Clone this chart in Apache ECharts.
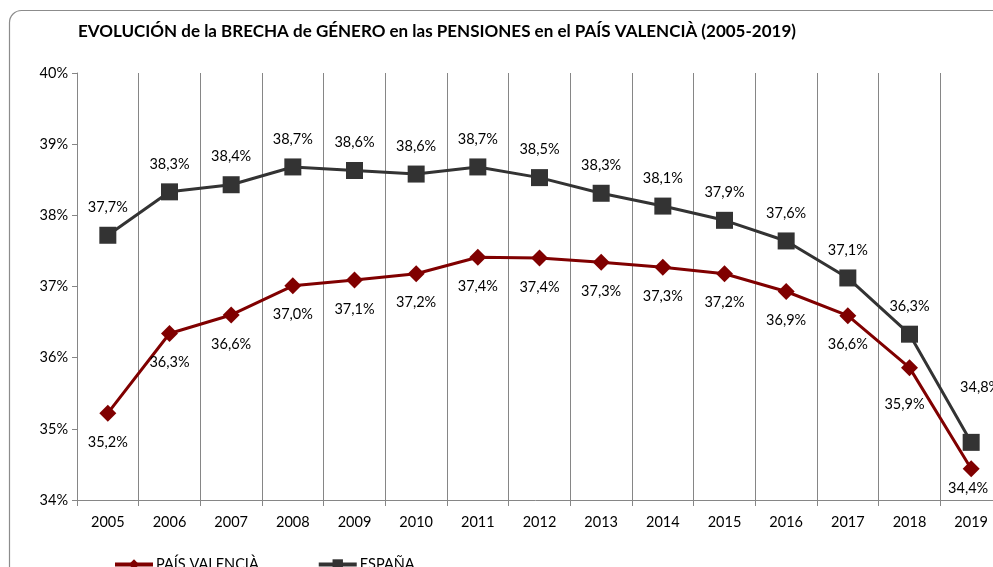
<!DOCTYPE html>
<html><head><meta charset="utf-8">
<script src="https://cdn.jsdelivr.net/npm/echarts@6/dist/echarts.min.js"></script>
<style>html,body{margin:0;padding:0;background:#fff}#c{width:993px;height:567px}</style>
</head><body><div id="c"></div>
<script>
const years = ['2005','2006','2007','2008','2009','2010','2011','2012','2013','2014','2015','2016','2017','2018','2019'];
const paisValencia = [35.22,36.34,36.60,37.01,37.09,37.18,37.41,37.40,37.34,37.27,37.18,36.93,36.59,35.86,34.44];
const espana = [37.72,38.33,38.43,38.68,38.63,38.58,38.68,38.53,38.31,38.13,37.93,37.64,37.12,36.33,34.81];
const yTicks = [34,35,36,37,38,39,40];
const titleText = 'EVOLUCIÓN de la BRECHA de GÉNERO en las PENSIONES en el PAÍS VALENCIÀ (2005-2019)';

const FONT = 'Lato';
const FS = 14.5;
const fmt = v => v.toFixed(1).replace('.', ',') + '%';
const chart = echarts.init(document.getElementById('c'), null, {renderer:'canvas'});
chart.setOption({
  animation:false,
  textStyle:{fontFamily:FONT},
  graphic:[{type:'rect', left:7, top:8, shape:{width:1020, height:600, r:12}, style:{fill:'none', stroke:'#8c8c8c', lineWidth:1.2}, z:-1}],
  title:{text:titleText, left:73, top:18, textStyle:{fontFamily:FONT, fontWeight:'bold', fontSize:17, color:'#000'}},
  legend:{left:108, top:552, itemGap:58, itemWidth:38, itemHeight:13,
    textStyle:{fontFamily:FONT, fontSize:FS, color:'#000', padding:[0,0,0,-2]},
    data:[{name:'PAÍS VALENCIÀ', lineStyle:{width:4}},{name:'ESPAÑA', lineStyle:{width:4}}]},
  grid:{left:77, right:-9, top:73, bottom:67, outerBoundsMode:'none', containLabel:false},
  xAxis:{type:'category', data:years, boundaryGap:true,
    axisLine:{lineStyle:{color:'#868686', width:1}},
    axisTick:{show:true, length:6, lineStyle:{color:'#868686'}},
    splitLine:{show:true, lineStyle:{color:'#868686', width:1}},
    axisLabel:{color:'#000', fontSize:FS, margin:15, fontFamily:FONT}},
  yAxis:{type:'value', min:yTicks[0], max:yTicks[yTicks.length-1], interval:1,
    axisLine:{show:true, lineStyle:{color:'#868686'}},
    axisTick:{show:true, length:5, lineStyle:{color:'#868686'}},
    splitLine:{show:false},
    axisLabel:{color:'#000', fontSize:FS, margin:9, fontFamily:FONT, formatter:v=>v+'%'}},
  series:[
    {name:'PAÍS VALENCIÀ', type:'line',
      data:paisValencia.map((v,i)=> i===13 ? {value:v, label:{offset:[-5,8]}} : (i===14 ? {value:v, label:{offset:[-3,-9]}} : v)),
      symbol:'diamond', symbolSize:17,
      lineStyle:{color:'#800000', width:3}, itemStyle:{color:'#800000'},
      label:{show:true, position:'bottom', distance:13, color:'#000', fontSize:FS, fontFamily:FONT, formatter:p=>fmt(p.value)},
      z:3},
    {name:'ESPAÑA', type:'line', data:espana.map((v,i)=> i===14 ? {value:v, label:{position:'top', offset:[9,-27]}} : v),
      symbol:'rect', symbolSize:17,
      lineStyle:{color:'#333333', width:3}, itemStyle:{color:'#333333'},
      label:{show:true, position:'top', distance:12, color:'#000', fontSize:FS, fontFamily:FONT, formatter:p=>fmt(p.value)},
      z:4}
  ]
});
</script></body></html>
